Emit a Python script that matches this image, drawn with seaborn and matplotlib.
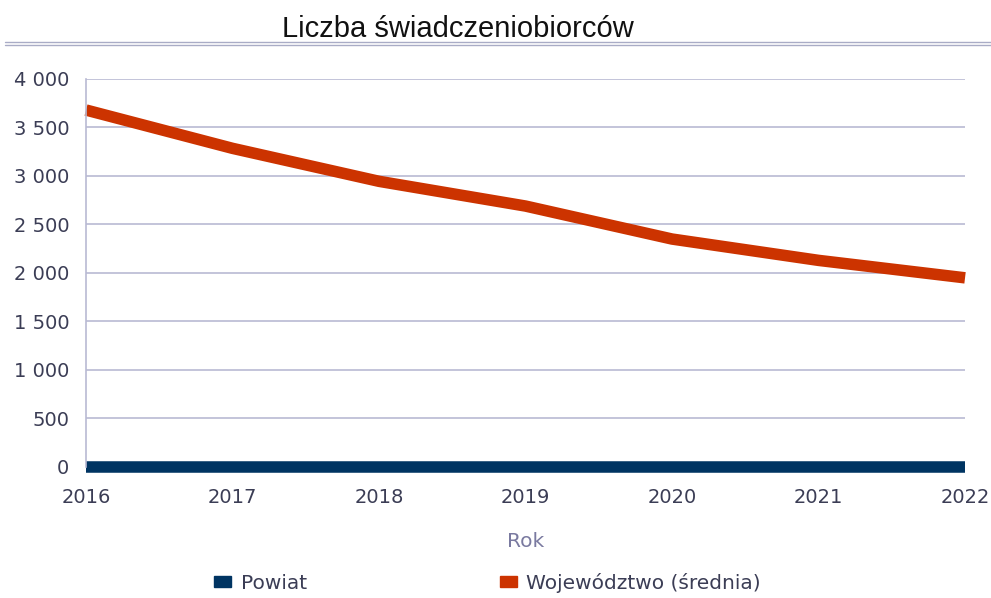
import numpy as np
import pandas as pd
import matplotlib.pyplot as plt
import seaborn as sns
from matplotlib.lines import Line2D
from matplotlib.patches import Patch

sns.set_theme(style="white")
plt.rcParams['font.family'] = ['DejaVu Sans']

years = [2016, 2017, 2018, 2019, 2020, 2021, 2022]
powiat = [0, 0, 0, 0, 0, 0, 0]
wojewodztwo = [3680, 3285, 2945, 2690, 2350, 2130, 1950]
series_names = ["Powiat", "Województwo (średnia)"]
colors = ["#003462", "#cc3300"]

df = pd.DataFrame({
    "Rok": years * 2,
    "Wartość": powiat + wojewodztwo,
    "Seria": [series_names[0]] * len(years) + [series_names[1]] * len(years),
})

fig = plt.figure(figsize=(9.91, 5.98), dpi=100)
ax = fig.add_axes([0.0868, 0.2191, 0.887, 0.6488])

sns.lineplot(data=df, x="Rok", y="Wartość", hue="Seria", palette=colors,
             linewidth=8.3, ax=ax, legend=False, clip_on=False,
             solid_capstyle="butt")

ax.set_xlim(2016, 2022)
ax.set_ylim(0, 4000)
ax.set_yticks(np.arange(0, 4001, 500))
ax.set_yticklabels([f"{v:,}".replace(",", " ") for v in range(0, 4001, 500)])
ax.set_xticks(years)

grid_col = "#b9bad3"
ax.yaxis.grid(True, color=grid_col, linewidth=1.2)
ax.xaxis.grid(False)
for s in ["top", "right", "bottom"]:
    ax.spines[s].set_visible(False)
ax.spines["left"].set_color(grid_col)
ax.spines["left"].set_linewidth(1.2)

tick_col = "#3b3d55"
ax.tick_params(axis="y", colors=tick_col, labelsize=14, length=0, pad=12)
ax.tick_params(axis="x", colors=tick_col, labelsize=14, length=0, pad=15)
ax.set_ylabel("")
ax.set_xlabel("Rok", color="#7a7aa0", fontsize=14.5, labelpad=18)

fig.text(0.462, 0.952, "Liczba świadczeniobiorców", ha="center", va="center",
         fontsize=21, color="#111111", family="Liberation Sans")
for yy in [0.929, 0.924]:
    fig.add_artist(Line2D([0.005, 1.0], [yy, yy], color="#a9acc6", linewidth=1.0))

for name, c, x0 in zip(series_names, colors, [0.198, 0.486]):
    fig.legend([Patch(facecolor=c, edgecolor=c)], [name], loc="center left",
               bbox_to_anchor=(x0, 0.025), frameon=False, fontsize=14.5,
               labelcolor=tick_col, handlelength=0.85, handleheight=0.45,
               handletextpad=0.45)

fig.savefig("out.png", dpi=100)
